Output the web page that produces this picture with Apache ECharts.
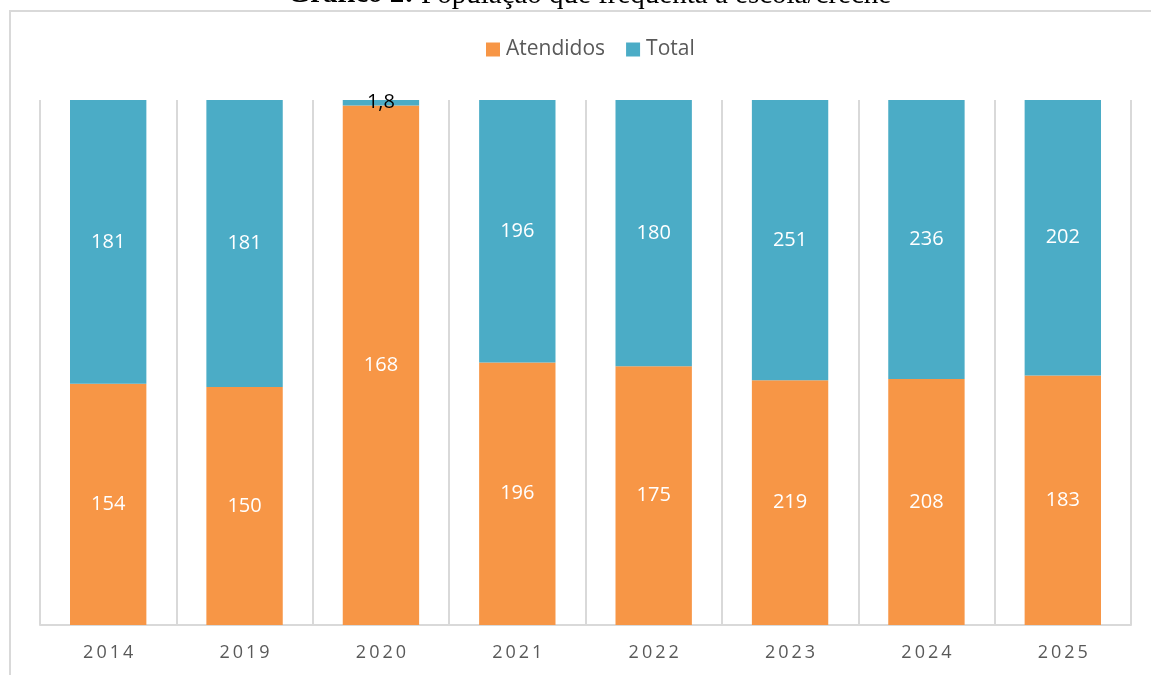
<!DOCTYPE html>
<html lang="pt">
<head>
    <meta charset="UTF-8">
    <title>População que frequenta a escola/creche</title>
    <script src="https://cdn.jsdelivr.net/npm/echarts@6/dist/echarts.min.js"></script>
    <style>
        html, body { margin: 0; padding: 0; background: #fff; }
        #chart { width: 1151px; height: 675px; }
    </style>
</head>
<body>
<div id="chart"></div>
<script>
    var anos = ['2014', '2019', '2020', '2021', '2022', '2023', '2024', '2025'];
    var atendidos = [154, 150, 168, 196, 175, 219, 208, 183];
    var total = [181, 181, 1.8, 196, 180, 251, 236, 202];

    // barras empilhadas em 100%
    function pct(arr) {
        return arr.map(function (v, i) {
            return v / (atendidos[i] + total[i]) * 100;
        });
    }
    function fmt(v) {
        return String(v).replace('.', ',');
    }

    var chart = echarts.init(document.getElementById('chart'));
    var option = {
        animation: false,
        graphic: [
            {
                type: 'rect',
                shape: { x: 10, y: 11, width: 1160, height: 700 },
                style: { fill: 'none', stroke: '#d9d9d9', lineWidth: 2 },
                silent: true
            },
            {
                type: 'text',
                x: 414,
                y: -5,
                style: {
                    text: 'Gráfico 2:',
                    font: 'bold 29px "Liberation Serif"',
                    fill: '#000',
                    align: 'right',
                    verticalAlign: 'middle'
                }
            },
            {
                type: 'text',
                x: 421,
                y: -5,
                style: {
                    text: 'População que frequenta a escola/creche',
                    font: '29px "Liberation Serif"',
                    fill: '#000',
                    align: 'left',
                    verticalAlign: 'middle'
                }
            }
        ],
        legend: {
            top: 34,
            left: 481,
            itemWidth: 14,
            itemHeight: 14,
            itemGap: 21,
            icon: 'rect',
            textStyle: { color: '#595959', fontSize: 21, fontFamily: 'Open Sans', padding: [0, 0, 0, 1] },
            data: ['Atendidos', 'Total']
        },
        grid: { left: 40, right: 20, top: 100, bottom: 50 },
        xAxis: {
            type: 'category',
            data: anos,
            axisTick: { show: false },
            axisLine: { lineStyle: { color: '#d9d9d9', width: 2 } },
            splitLine: { show: true, lineStyle: { color: '#d9d9d9', width: 2 } },
            axisLabel: {
                margin: 19,
                color: '#595959',
                fontSize: 18,
                fontFamily: 'Open Sans',
                formatter: function (v) { return v.split('').join('\u2009'); }
            }
        },
        yAxis: {
            type: 'value',
            min: 0,
            max: 100,
            show: false,
            splitLine: { show: false }
        },
        series: [
            {
                name: 'Atendidos',
                type: 'bar',
                stack: 'a',
                barWidth: '56%',
                itemStyle: { color: '#F79646' },
                label: {
                    show: true,
                    position: 'inside',
                    color: '#fff',
                    fontSize: 20,
                    fontFamily: 'Open Sans',
                    formatter: function (p) { return fmt(atendidos[p.dataIndex]); }
                },
                data: pct(atendidos)
            },
            {
                name: 'Total',
                type: 'bar',
                stack: 'a',
                itemStyle: { color: '#4BACC6' },
                label: {
                    show: true,
                    position: 'inside',
                    color: '#fff',
                    fontSize: 20,
                    fontFamily: 'Open Sans',
                    formatter: function (p) { return fmt(total[p.dataIndex]); }
                },
                data: pct(total).map(function (v, i) {
                    if (total[i] < 10) {
                        return { value: v, label: { color: '#000' } };
                    }
                    return v;
                })
            }
        ]
    };
    chart.setOption(option);
</script>
</body>
</html>
